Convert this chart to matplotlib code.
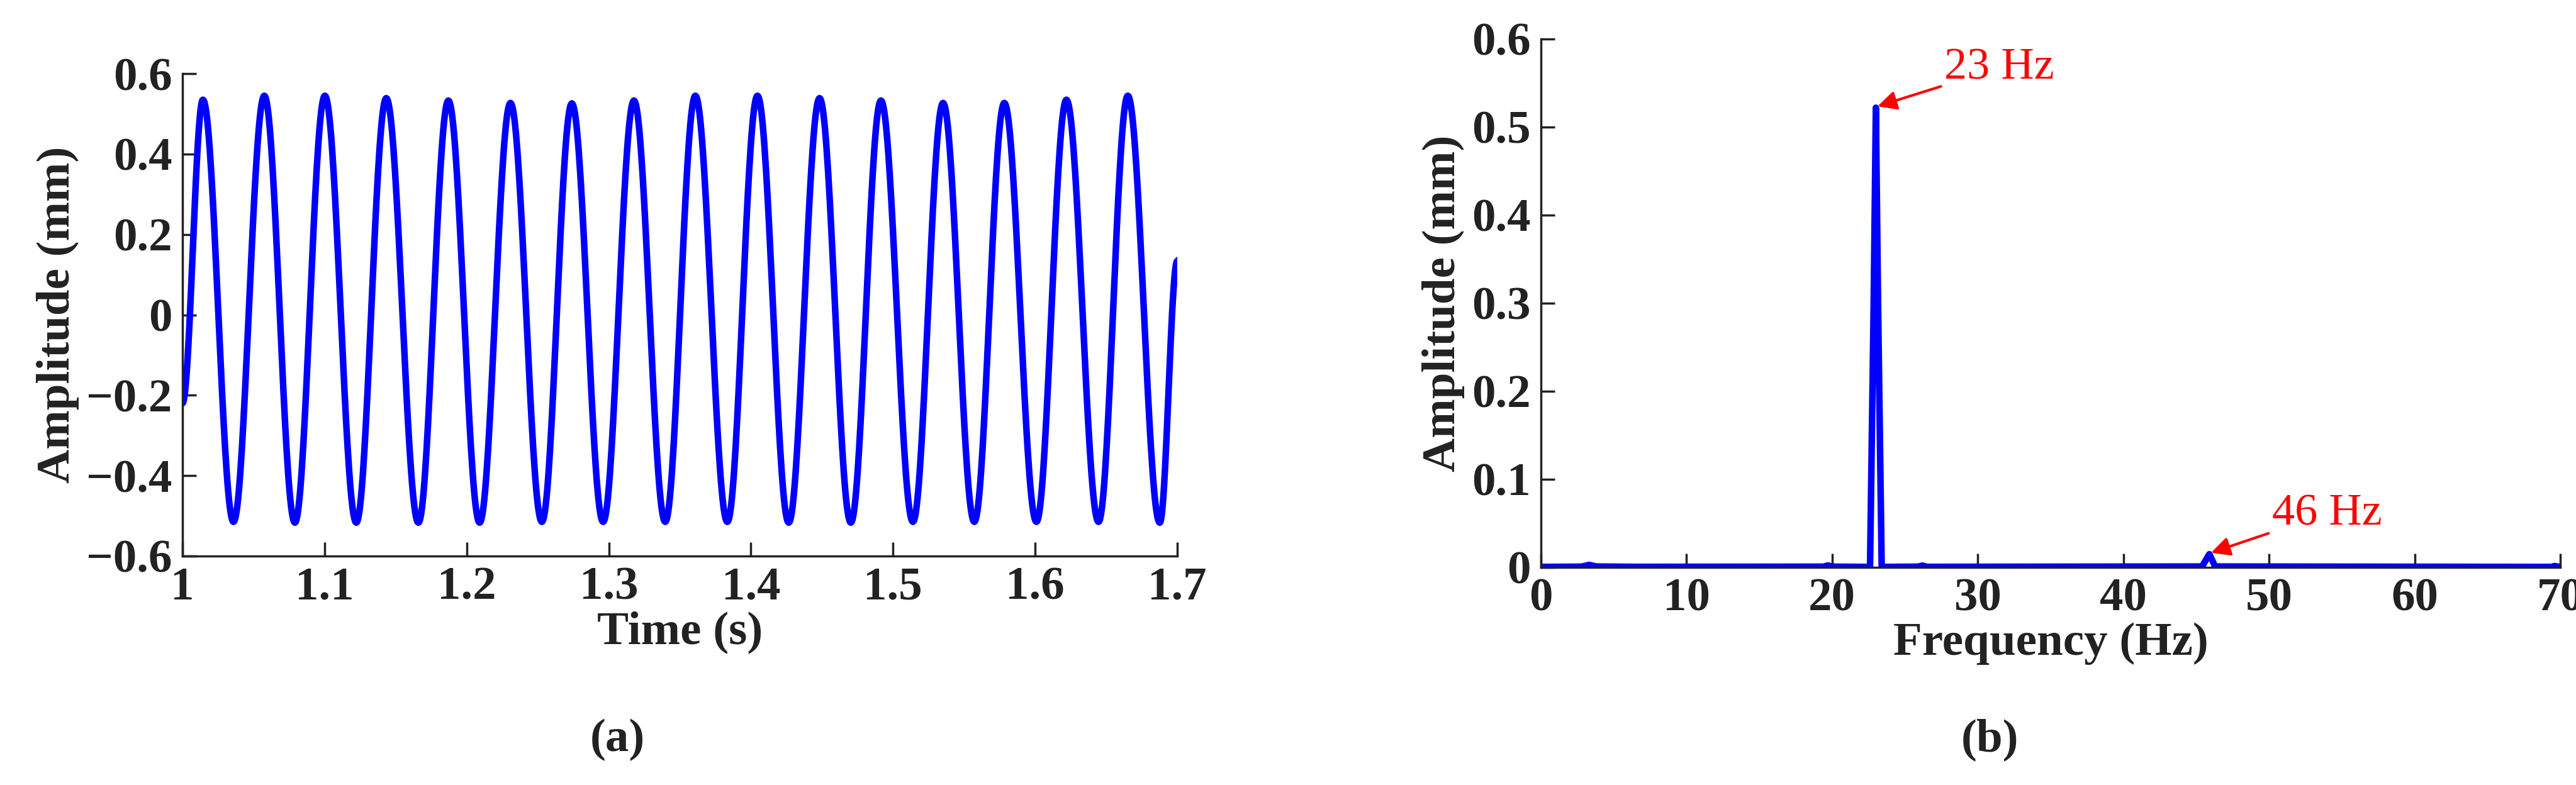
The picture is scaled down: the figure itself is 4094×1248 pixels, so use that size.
import numpy as np
import matplotlib
matplotlib.use("Agg")
import matplotlib.pyplot as plt

# ── (a) time signal: extrema ──────────────────────────────────────────────────
t_start, y_start = 1.0, -0.22
peak_t = [1.0144, 1.0576, 1.1002, 1.1434, 1.1871, 1.2308, 1.2740, 1.3177,
          1.3609, 1.4046, 1.4483, 1.4915, 1.5352, 1.5783, 1.6220, 1.6652]
peak_y = [0.535, 0.545, 0.545, 0.539, 0.533, 0.527, 0.526, 0.533,
          0.545, 0.545, 0.539, 0.533, 0.527, 0.527, 0.535, 0.545]
trough_t = [1.0359, 1.0791, 1.1223, 1.1660, 1.2091, 1.2529, 1.2960, 1.3397,
            1.3834, 1.4266, 1.4703, 1.5140, 1.5572, 1.6009, 1.6446, 1.6877]
trough_y = [-0.515, -0.517, -0.517, -0.517, -0.517, -0.515, -0.515, -0.515,
            -0.515, -0.517, -0.517, -0.515, -0.515, -0.515, -0.515, -0.517]
t_end, y_end = 1.7, 0.134

# ── (b) spectrum ──────────────────────────────────────────────────────────────
freq = [0, 2.8, 3.3, 3.8, 6.5, 19.4, 19.7, 20.0, 22.6, 22.85, 23.0, 23.15, 23.4,
        25.9, 26.2, 26.5, 45.4, 45.9, 46.3, 69.4, 69.6, 70]
amp = [0.0005, 0.0008, 0.0028, 0.001, 0.0006, 0.0008, 0.0022, 0.0008, 0.0005,
       0.3, 0.522, 0.3, 0.0005, 0.0008, 0.002, 0.0006, 0.001, 0.015, 0.001,
       0.0005, 0.0015, 0.0005]

BLUE = "#0000ff"
TXT = "#222222"
serif = ["Liberation Serif", "DejaVu Serif"]
plt.rcParams["font.family"] = serif
plt.rcParams["font.weight"] = "bold"
TICK_FS = 54
LAB_FS = 54


def smooth_through(kt, ky, n=40):
    # half-cosine easing between successive extrema
    xs, ys = [], []
    for i in range(len(kt) - 1):
        s = np.linspace(0, 1, n, endpoint=False)
        w = (1 - np.cos(np.pi * s)) / 2
        xs.append(kt[i] + (kt[i + 1] - kt[i]) * s)
        ys.append(ky[i] + (ky[i + 1] - ky[i]) * w)
    xs.append([kt[-1]])
    ys.append([ky[-1]])
    return np.concatenate(xs), np.concatenate(ys)


def style(ax):
    for side in ("top", "right"):
        ax.spines[side].set_visible(False)
    for side in ("left", "bottom"):
        ax.spines[side].set_linewidth(2.5)
        ax.spines[side].set_color(TXT)
    ax.tick_params(direction="in", length=16, width=2.5, colors=TXT,
                   labelsize=TICK_FS, pad=12)
    for lab in ax.get_xticklabels() + ax.get_yticklabels():
        lab.set_fontweight("bold")


fig = plt.figure(figsize=(40.94, 12.48), dpi=100, facecolor="white")

# (a)
ax1 = fig.add_axes([290 / 4094, 1 - 884 / 1248, 1581 / 4094, 767 / 1248])
kt = [t_start]
ky = [y_start]
for i in range(len(peak_t)):
    kt += [peak_t[i], trough_t[i]]
    ky += [peak_y[i], trough_y[i]]
kt.append(t_end)
ky.append(y_end)
xs, ys = smooth_through(kt, ky)
ax1.plot(xs, ys, color=BLUE, lw=7.5)
ax1.set_xlim(1, 1.7)
ax1.set_ylim(-0.6, 0.6)
ax1.set_xticks(np.arange(1, 1.71, 0.1))
ax1.set_xticklabels(["1", "1.1", "1.2", "1.3", "1.4", "1.5", "1.6", "1.7"])
ax1.set_yticks([-0.6, -0.4, -0.2, 0, 0.2, 0.4, 0.6])
ax1.set_yticklabels(["\u22120.6", "\u22120.4", "\u22120.2", "0", "0.2", "0.4", "0.6"])
style(ax1)
ax1.set_xlabel("Time (s)", fontsize=LAB_FS, fontweight="bold", color=TXT, labelpad=2)
ax1.set_ylabel("Amplitude (mm)", fontsize=LAB_FS, fontweight="bold", color=TXT, labelpad=8)
fig.text(981 / 4094, 1 - 1176 / 1248, "(a)", fontsize=LAB_FS, ha="center", va="center",
         color=TXT)

# (b)
ax2 = fig.add_axes([2449 / 4094, 1 - 902 / 1248, 1620 / 4094, 840 / 1248])
ax2.plot(freq, amp, color=BLUE, lw=7.5)
ax2.set_xlim(0, 70)
ax2.set_ylim(0, 0.6)
ax2.set_xticks(range(0, 71, 10))
ax2.set_yticks([0, 0.1, 0.2, 0.3, 0.4, 0.5, 0.6])
ax2.set_yticklabels(["0", "0.1", "0.2", "0.3", "0.4", "0.5", "0.6"])
style(ax2)
ax2.set_xlabel("Frequency (Hz)", fontsize=LAB_FS, fontweight="bold", color=TXT, labelpad=2)
ax2.set_ylabel("Amplitude (mm)", fontsize=LAB_FS, fontweight="bold", color=TXT, labelpad=8)
ax2.annotate("23 Hz", xy=(23.0, 0.523), xytext=(27.7, 0.567), color="red",
             fontsize=52, fontweight="normal", va="center", ha="left",
             arrowprops=dict(arrowstyle="-|>", color="red", lw=3, mutation_scale=45))
ax2.annotate("46 Hz", xy=(45.9, 0.016), xytext=(50.2, 0.061), color="red",
             fontsize=52, fontweight="normal", va="center", ha="left",
             arrowprops=dict(arrowstyle="-|>", color="red", lw=3, mutation_scale=45))
fig.text(3162 / 4094, 1 - 1176 / 1248, "(b)", fontsize=LAB_FS, ha="center", va="center",
         color=TXT)

fig.savefig("out.png", dpi=100, facecolor="white")
